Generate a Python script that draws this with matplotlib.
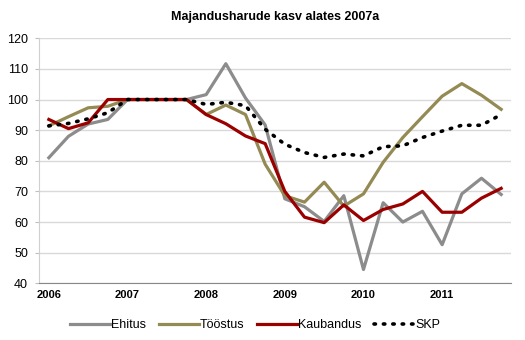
import matplotlib.pyplot as plt
import numpy as np

plt.rcParams['font.family'] = ['Liberation Sans', 'DejaVu Sans']

# quarterly index, 2006 Q1 .. 2011 Q4
years = ['2006', '2007', '2008', '2009', '2010', '2011']
ehitus = [81, 88, 92, 93.5, 100, 100, 100, 100, 101.6, 111.7, 100.5, 91.7,
          67.6, 65, 60.2, 68.6, 44.5, 66.3, 60, 63.5, 52.6, 69.2, 74.3, 69]
toostus = [91.4, 94.4, 97.3, 97.8, 100, 100, 100, 100, 95.1, 98.2, 95.1, 78.9,
           68.6, 66.5, 73, 65.2, 69.2, 79.5, 87.6, 94.4, 101.1, 105.2, 101.4, 96.8]
kaubandus = [93.5, 90.5, 92.4, 100, 100, 100, 100, 100, 95.1, 92.1, 88.1, 85.6,
             70, 61.6, 59.8, 65.6, 60.5, 64.1, 65.9, 70, 63.2, 63.2, 67.8, 71]
skp = [91.4, 92.2, 93.7, 95.7, 100, 100, 100, 100, 98.4, 99.1, 98, 90.3,
       85.4, 82.7, 81.1, 82.2, 81.6, 84.6, 84.9, 87.6, 89.7, 91.6, 91.6, 95.1]

x = np.arange(len(skp))

fig = plt.figure(figsize=(5.25, 3.4), dpi=100)
ax = fig.add_axes([0.0743, 0.1668, 0.899, 0.7206])

ax.plot(x, ehitus, color='#8c8c8c', lw=2.3, label='Ehitus')
ax.plot(x, toostus, color='#948a54', lw=2.3, label='Tööstus')
ax.plot(x, kaubandus, color='#9b0000', lw=2.3, label='Kaubandus')
ax.plot(x, skp, color='black', lw=2.6, ls=(0, (0.4, 2.2)), dash_capstyle='round',
        label='SKP')

ax.set_xlim(-0.5, len(x) - 0.5)
ax.set_ylim(40, 120)
ax.set_yticks(np.arange(40, 121, 10))
ax.yaxis.grid(True, color='#d9d9d9', lw=1)
ax.set_axisbelow(True)

ax.set_xticks(np.arange(0, len(x), 4), labels=years, fontsize=8, fontweight='bold')
ax.tick_params(axis='x', length=0, pad=5)
ax.tick_params(axis='y', length=3, color='#bfbfbf', labelsize=9, pad=5)

for s in ['top', 'right']:
    ax.spines[s].set_visible(False)
ax.spines['left'].set_color('#d0d0d0')
ax.spines['bottom'].set_color('#888888')

ax.set_title('Majandusharude kasv alates 2007a', fontsize=9, fontweight='bold', pad=13)

ax.legend(loc='upper center', bbox_to_anchor=(0.458, -0.10), ncol=4, frameon=False,
          fontsize=9, handlelength=3.2, handletextpad=0.1, columnspacing=1.0)

fig.savefig('out.png', dpi=100)
